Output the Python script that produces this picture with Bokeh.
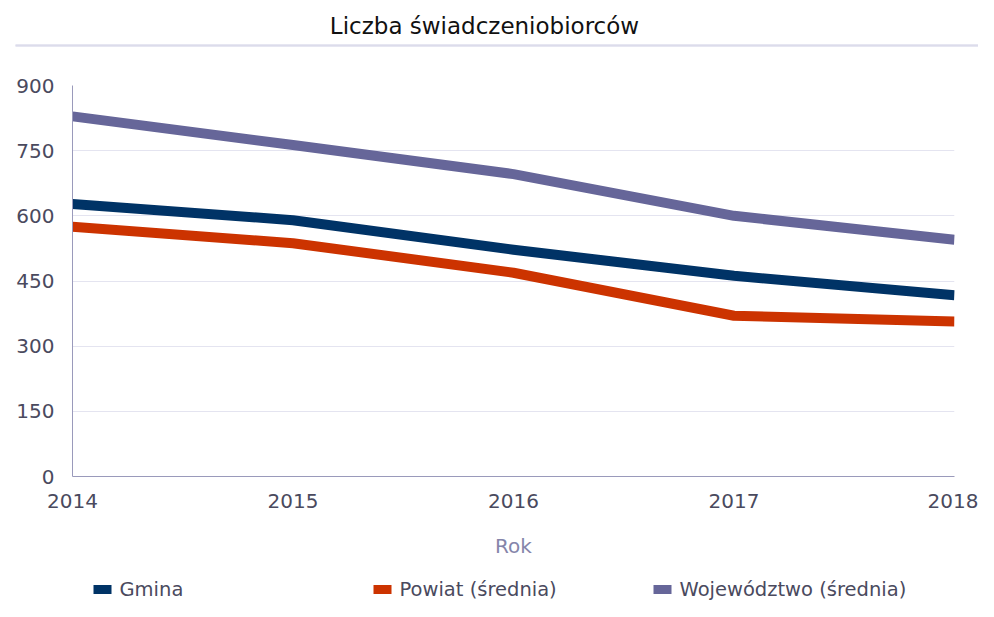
from bokeh.plotting import figure
from bokeh.models import Range1d, FixedTicker
from bokeh.layouts import column, row
from bokeh.core.properties import value
from bokeh.embed import file_html
from bokeh.resources import INLINE

years = [2014, 2015, 2016, 2017, 2018]
gmina = [627, 590, 522, 462, 417]
powiat = [575, 537, 469, 370, 357]
wojewodztwo = [829, 763, 696, 600, 545]
y_ticks = [0, 150, 300, 450, 600, 750, 900]

title_text = "Liczba świadczeniobiorców"
x_title = "Rok"
series_names = ["Gmina", "Powiat (średnia)", "Województwo (średnia)"]
series_values = [gmina, powiat, wojewodztwo]
series_colors = ["#003366", "#CC3300", "#666699"]

FONT = "DejaVu Sans"
TEXT = "#4a4a5e"
W = 978


def bare(h):
    f = figure(width=W, height=h, output_backend="svg", toolbar_location=None,
               x_range=Range1d(0, W), y_range=Range1d(h, 0),
               min_border=0, min_border_left=0, min_border_right=0,
               min_border_top=0, min_border_bottom=0)
    f.axis.visible = False
    f.grid.visible = False
    f.outline_line_color = None
    return f


# ---- top: title and separator
top = bare(60)
top.text(x=[484], y=[25], text=[title_text], text_font=value(FONT),
         text_font_size="23px", text_color="#111111",
         text_align="center", text_baseline="middle")
top.segment(x0=[15], y0=[45], x1=[W], y1=[45], line_color="#e6e6f1", line_width=3)
top.segment(x0=[15], y0=[45], x1=[W], y1=[45], line_color="#dcdceb", line_width=1)

# ---- main chart
p = figure(width=W, height=500, output_backend="svg", toolbar_location=None,
           x_range=Range1d(2014, 2018), y_range=Range1d(0, 900),
           min_border_left=72, min_border_right=24, min_border_top=25,
           min_border_bottom=82)
p.outline_line_color = None

for vals, col in zip(series_values, series_colors):
    p.line(years, vals, line_color=col, line_width=10, line_join="round")

p.xaxis.ticker = FixedTicker(ticks=years)
p.yaxis.ticker = FixedTicker(ticks=y_ticks)
for ax in (p.xaxis[0], p.yaxis[0]):
    ax.axis_line_color = "#9a9abb"
    ax.axis_line_width = 1
    ax.major_tick_line_color = None
    ax.minor_tick_line_color = None
    ax.major_label_text_font = FONT
    ax.major_label_text_font_size = "20px"
    ax.major_label_text_color = TEXT
p.yaxis.major_label_standoff = 12
p.xaxis.major_label_standoff = 11
p.xaxis.axis_label = x_title
p.xaxis.axis_label_text_font = FONT
p.xaxis.axis_label_text_font_style = "normal"
p.xaxis.axis_label_text_font_size = "20px"
p.xaxis.axis_label_text_color = "#8585aa"
p.xaxis.axis_label_standoff = 23

p.xgrid.grid_line_color = None
p.ygrid.grid_line_color = "#e4e4f0"
p.ygrid.grid_line_width = 1

# ---- legend strip
leg = bare(41)
leg_centers = [102, 382, 662]
leg_y = 29
leg.rect(x=leg_centers, y=[leg_y] * 3, width=18, height=9,
         fill_color=series_colors, line_color=None)
leg.text(x=[c + 17 for c in leg_centers], y=[leg_y] * 3, text=series_names,
         text_font=value(FONT), text_font_size="19.5px", text_color=TEXT,
         text_align="left", text_baseline="middle")

layout = column(row(top), p, row(leg), spacing=0)
open("out.html", "w").write(file_html(layout, INLINE))
